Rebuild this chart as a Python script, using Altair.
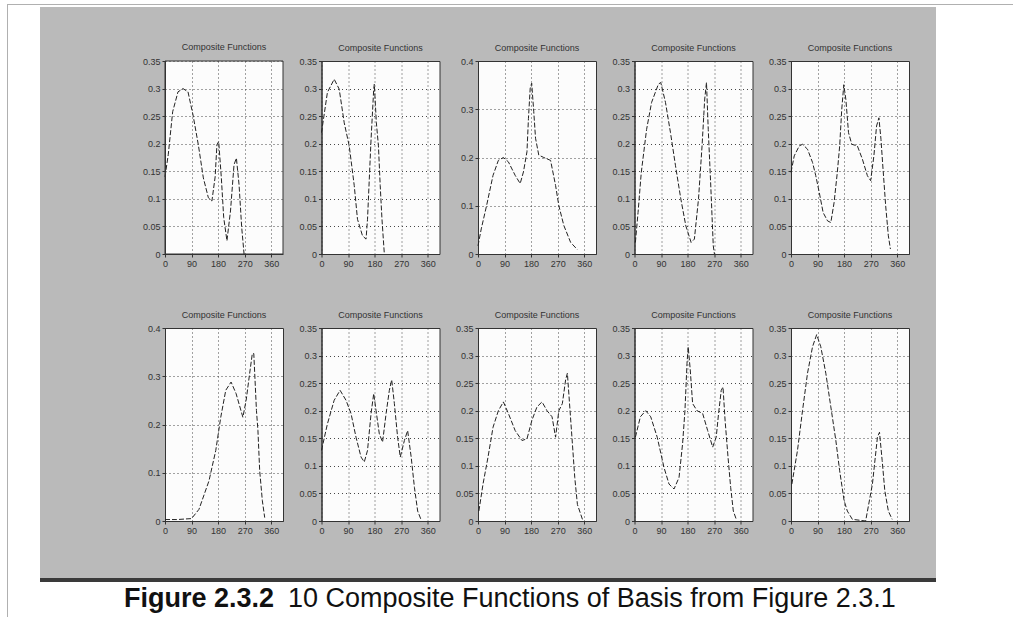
import altair as alt
import pandas as pd

TITLE = "Composite Functions"
X_TICKS = [0, 90, 180, 270, 360]
Y_TICKS_A = [0, 0.05, 0.1, 0.15, 0.2, 0.25, 0.3, 0.35]
Y_TICKS_B = [0, 0.1, 0.2, 0.3, 0.4]
CAPTION_BOLD = "Figure 2.3.2"
CAPTION_TEXT = "10 Composite Functions of Basis from Figure 2.3.1"

p1_x = [0, 11, 26, 44, 61, 78, 95, 113, 130, 147, 159, 170, 176, 182, 191, 199, 210, 222, 234, 242, 251, 260, 268]
p1_y = [0.14, 0.18, 0.258, 0.294, 0.30, 0.294, 0.252, 0.198, 0.138, 0.102, 0.096, 0.14, 0.198, 0.204, 0.138, 0.066, 0.024, 0.078, 0.162, 0.174, 0.126, 0.048, 0.0]

p2_x = [0, 20, 43, 60, 77, 94, 111, 122, 139, 151, 156, 162, 168, 177, 179, 186, 193, 199, 205, 213]
p2_y = [0.22, 0.293, 0.317, 0.299, 0.238, 0.196, 0.124, 0.063, 0.033, 0.027, 0.063, 0.136, 0.208, 0.299, 0.308, 0.238, 0.196, 0.124, 0.063, 0.0]

p3_x = [0, 11, 29, 51, 69, 86, 103, 126, 143, 154, 166, 171, 177, 182, 189, 195, 206, 223, 246, 263, 274, 291, 314, 337]
p3_y = [0.017, 0.052, 0.10, 0.163, 0.194, 0.2, 0.191, 0.163, 0.146, 0.17, 0.212, 0.281, 0.344, 0.354, 0.295, 0.24, 0.205, 0.2, 0.194, 0.142, 0.10, 0.059, 0.024, 0.009]

p4_x = [3, 12, 23, 41, 58, 81, 89, 105, 122, 139, 157, 174, 192, 203, 217, 229, 238, 244, 250, 259, 267, 271]
p4_y = [0.021, 0.075, 0.148, 0.226, 0.275, 0.308, 0.311, 0.275, 0.22, 0.16, 0.10, 0.051, 0.021, 0.027, 0.10, 0.196, 0.281, 0.311, 0.226, 0.118, 0.015, 0.0]

p5_x = [0, 11, 28, 39, 56, 73, 84, 96, 109, 124, 135, 146, 157, 165, 172, 179, 186, 195, 206, 225, 242, 259, 270, 281, 290, 298, 305, 312, 321, 330, 337]
p5_y = [0.148, 0.178, 0.196, 0.199, 0.19, 0.166, 0.142, 0.111, 0.075, 0.06, 0.057, 0.093, 0.148, 0.196, 0.262, 0.307, 0.28, 0.22, 0.199, 0.196, 0.172, 0.142, 0.133, 0.178, 0.232, 0.247, 0.208, 0.154, 0.087, 0.033, 0.009]

p6_x = [0, 40, 90, 115, 149, 172, 189, 206, 224, 241, 264, 275, 287, 296, 301, 310, 315, 321, 330, 338]
p6_y = [0.003, 0.003, 0.005, 0.024, 0.083, 0.146, 0.215, 0.271, 0.288, 0.264, 0.215, 0.25, 0.306, 0.347, 0.347, 0.229, 0.188, 0.104, 0.042, 0.007]

p7_x = [0, 20, 43, 63, 83, 100, 117, 134, 145, 156, 168, 177, 185, 196, 207, 219, 230, 238, 247, 258, 267, 281, 292, 304, 315, 326, 337]
p7_y = [0.128, 0.176, 0.219, 0.237, 0.219, 0.195, 0.152, 0.116, 0.107, 0.128, 0.195, 0.231, 0.2, 0.158, 0.143, 0.195, 0.237, 0.256, 0.213, 0.152, 0.116, 0.146, 0.164, 0.116, 0.061, 0.018, 0.003]

p8_x = [3, 17, 34, 51, 69, 86, 103, 126, 149, 166, 183, 200, 217, 234, 251, 263, 274, 286, 297, 303, 312, 320, 328, 337, 354]
p8_y = [0.018, 0.067, 0.116, 0.17, 0.2, 0.216, 0.195, 0.164, 0.146, 0.149, 0.183, 0.207, 0.216, 0.2, 0.189, 0.152, 0.2, 0.213, 0.256, 0.268, 0.2, 0.14, 0.079, 0.03, 0.003]

p9_x = [3, 20, 38, 55, 77, 100, 117, 134, 151, 163, 171, 178, 182, 189, 197, 212, 231, 248, 265, 277, 285, 294, 300, 307, 317, 326, 335, 345]
p9_y = [0.152, 0.189, 0.2, 0.189, 0.152, 0.097, 0.067, 0.058, 0.079, 0.14, 0.2, 0.286, 0.316, 0.274, 0.213, 0.2, 0.195, 0.164, 0.134, 0.152, 0.195, 0.237, 0.243, 0.183, 0.116, 0.061, 0.018, 0.003]

p10_x = [3, 22, 39, 56, 73, 87, 101, 118, 135, 152, 165, 180, 191, 208, 253, 276, 293, 300, 309, 318, 330, 343]
p10_y = [0.067, 0.128, 0.2, 0.268, 0.316, 0.338, 0.316, 0.268, 0.207, 0.146, 0.091, 0.037, 0.018, 0.003, 0.0, 0.067, 0.152, 0.161, 0.11, 0.055, 0.018, 0.003]

SERIES = [
    (p1_x, p1_y, 0.35, Y_TICKS_A),
    (p2_x, p2_y, 0.35, Y_TICKS_A),
    (p3_x, p3_y, 0.4, Y_TICKS_B),
    (p4_x, p4_y, 0.35, Y_TICKS_A),
    (p5_x, p5_y, 0.35, Y_TICKS_A),
    (p6_x, p6_y, 0.4, Y_TICKS_B),
    (p7_x, p7_y, 0.35, Y_TICKS_A),
    (p8_x, p8_y, 0.35, Y_TICKS_A),
    (p9_x, p9_y, 0.35, Y_TICKS_A),
    (p10_x, p10_y, 0.35, Y_TICKS_A),
]

W, H = 118, 193
FONT = "Liberation Sans"
AX = dict(labelFontSize=9, labelFont=FONT, labelColor="#333", title=None,
          grid=True, gridDash=[1, 3], gridColor="#333", gridOpacity=0.9,
          domainColor="#333", tickColor="#333", tickSize=3, labelPadding=2,
          labelFlush=False)

one = pd.DataFrame({"k": [0]})


def panel(xs, ys, ymax, yticks, first=False):
    df = pd.DataFrame({"x": xs, "y": ys})
    zi = 1 if first else 0
    x = alt.X("x:Q", scale=alt.Scale(domain=[0, 400], nice=False, zero=False),
              axis=alt.Axis(values=X_TICKS, zindex=zi, **AX))
    y = alt.Y("y:Q", scale=alt.Scale(domain=[0, ymax], nice=False),
              axis=alt.Axis(values=yticks, format=".2~f", zindex=zi, **AX))
    line = alt.Chart(df).mark_line(color="#222", strokeWidth=1, strokeDash=[5, 2]).encode(x=x, y=y)
    if not first:
        return line.properties(width=W, height=H, title=TITLE)
    # decorative page elements, drawn relative to the first panel
    base = alt.Chart(one)
    frame_l = base.mark_rect(color="#b0b0b0").encode(
        x=alt.value(-158), x2=alt.value(-157), y=alt.value(-57), y2=alt.value(557))
    frame_t = base.mark_rect(color="#b0b0b0").encode(
        x=alt.value(-158), x2=alt.value(848), y=alt.value(-57), y2=alt.value(-56))
    gray = base.mark_rect(color="#bababa").encode(
        x=alt.value(-125), x2=alt.value(771), y=alt.value(-54), y2=alt.value(518))
    dark = base.mark_rect(color="#3a3a3a").encode(
        x=alt.value(-125), x2=alt.value(771), y=alt.value(517), y2=alt.value(521))
    white = base.mark_rect(fill="#fcfcfc", stroke="#333", strokeWidth=1).encode(
        x=alt.value(0), x2=alt.value(W), y=alt.value(0), y2=alt.value(H))
    ttl = base.mark_text(text=TITLE, font=FONT, fontSize=9, align="center",
                         baseline="bottom", color="#333").encode(
        x=alt.value(W / 2), y=alt.value(-9))
    cap_b = base.mark_text(text=CAPTION_BOLD, font=FONT, fontSize=27, fontWeight="bold",
                           align="left", baseline="alphabetic", color="#111").encode(
        x=alt.value(-41), y=alt.value(546))
    cap_t = base.mark_text(text=CAPTION_TEXT, font=FONT, fontSize=27,
                           align="left", baseline="alphabetic", color="#111").encode(
        x=alt.value(123), y=alt.value(546))
    return alt.layer(frame_l, frame_t, gray, dark, white, ttl, cap_b, cap_t, line).properties(
        width=W, height=H)


panels = [panel(*s, first=(i == 0)) for i, s in enumerate(SERIES)]

chart = alt.concat(*panels, columns=5, spacing={"row": 74, "column": 38.5}, bounds="flush").properties(
    padding={"left": 6, "top": 3, "right": 0, "bottom": 0},
    background="white",
).configure_view(fill="#fcfcfc", stroke="#333", strokeWidth=1).configure_title(
    fontSize=9, font=FONT, fontWeight="normal", color="#333", offset=4
)

chart.save("out.html", embed_options={"renderer": "svg", "actions": False})
